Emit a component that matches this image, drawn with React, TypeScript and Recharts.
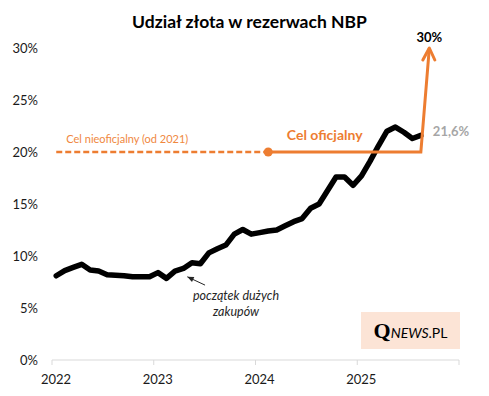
import React from "react";
import {
  LineChart,
  Line,
  XAxis,
  YAxis,
  ReferenceDot,
  ReferenceLine,
} from "recharts";

// NBP gold share in reserves, monthly (%)
const months = [
  "2022-01", "2022-02", "2022-03", "2022-04", "2022-05", "2022-06",
  "2022-07", "2022-08", "2022-09", "2022-10", "2022-11", "2022-12",
  "2023-01", "2023-02", "2023-03", "2023-04", "2023-05", "2023-06",
  "2023-07", "2023-08", "2023-09", "2023-10", "2023-11", "2023-12",
  "2024-01", "2024-02", "2024-03", "2024-04", "2024-05", "2024-06",
  "2024-07", "2024-08", "2024-09", "2024-10", "2024-11", "2024-12",
  "2025-01", "2025-02", "2025-03", "2025-04", "2025-05", "2025-06",
  "2025-07", "2025-08",
];
const goldShare = [
  8.1, 8.6, 8.9, 9.2, 8.65, 8.55, 8.2, 8.15, 8.1, 8.0, 8.0, 8.0,
  8.4, 7.85, 8.55, 8.8, 9.35, 9.25, 10.3, 10.7, 11.05, 12.1, 12.55, 12.1,
  12.25, 12.4, 12.5, 12.9, 13.3, 13.6, 14.6, 15.0, 16.3, 17.6, 17.6, 16.8,
  17.7, 19.1, 20.6, 22.0, 22.4, 21.9, 21.3, 21.6,
];

// targets
const unofficialMonths = ["2022-01", "2024-02"];
const unofficialValues = [20, 20];
const officialMonths = ["2024-02", "2025-08", "2025-09"];
const officialValues = [20, 20, 30];

const yTicks = [0, 5, 10, 15, 20, 25, 30];
const yearTicks = [2022, 2023, 2024, 2025, 2026];

const ORANGE = "#ED7D31";

const toT = (m: string) => {
  const [y, mo] = m.split("-").map(Number);
  return y + (mo - 0.5) / 12;
};

const data = months.map((m, i) => ({ t: toT(m), v: goldShare[i] }));
const unofficial = unofficialMonths.map((m, i) => ({ t: toT(m), v: unofficialValues[i] }));
const official = officialMonths.map((m, i) => ({ t: toT(m), v: officialValues[i] }));

function YearTick(props: any) {
  const { x, y, payload } = props;
  if (payload.value === 2026) return <g />;
  return (
    <text x={x + 4} y={y + 17} textAnchor="middle" fontSize={13} fill="#1a1a1a">
      {payload.value}
    </text>
  );
}

function targetDot(props: any) {
  const { cx, cy, index } = props;
  if (index === 0) {
    return <circle key="d0" cx={cx} cy={cy} r={4.5} fill={ORANGE} />;
  }
  if (index === officialValues.length - 1) {
    return (
      <polyline
        key="arrow"
        points={`${cx - 6.5},${cy + 12} ${cx},${cy} ${cx + 5.5},${cy + 12}`}
        fill="none"
        stroke={ORANGE}
        strokeWidth={3}
        strokeLinecap="round"
        strokeLinejoin="round"
      />
    );
  }
  return <g key={`e${index}`} />;
}

function pointerArrow(props: any) {
  const { x1, y1, x2, y2 } = props;
  const ang = Math.atan2(y2 - y1, x2 - x1);
  const len = 7;
  const a1 = ang + Math.PI - 0.4;
  const a2 = ang + Math.PI + 0.4;
  return (
    <g>
      <line x1={x1} y1={y1} x2={x2} y2={y2} stroke="#262626" strokeWidth={1} />
      <polygon
        points={`${x2},${y2} ${x2 + len * Math.cos(a1)},${y2 + len * Math.sin(a1)} ${x2 + len * Math.cos(a2)},${y2 + len * Math.sin(a2)}`}
        fill="#262626"
      />
    </g>
  );
}

export default function App() {
  return (
    <div
      style={{
        position: "absolute",
        left: 0,
        top: 0,
        width: 489,
        height: 396,
        background: "#fff",
        fontFamily: "Lato, sans-serif",
      }}
    >
      <div
        style={{
          position: "absolute",
          left: 5,
          top: 11,
          width: 489,
          textAlign: "center",
          fontSize: 17.5,
          fontWeight: 700,
          lineHeight: "22px",
          color: "#000",
        }}
      >
        Udział złota w rezerwach NBP
      </div>

      <LineChart
        width={489}
        height={396}
        margin={{ top: 48, right: 30, left: 12, bottom: 6 }}
      >
        <XAxis
          dataKey="t"
          type="number"
          domain={[2022, 2026]}
          ticks={yearTicks}
          allowDataOverflow
          stroke="#D9D9D9"
          tickSize={5}
          height={30}
          tick={<YearTick />}
        />
        <YAxis
          type="number"
          domain={[0, 30]}
          ticks={yTicks}
          axisLine={false}
          tickLine={false}
          tickSize={0}
          tickMargin={14}
          width={40}
          tick={{ fontSize: 13, fill: "#1a1a1a" }}
          tickFormatter={(v) => `${v}%`}
        />
        <Line
          data={data}
          dataKey="v"
          type="linear"
          stroke="#000"
          strokeWidth={5.5}
          strokeLinejoin="round"
          strokeLinecap="round"
          dot={false}
          activeDot={false}
          isAnimationActive={false}
        />
        <Line
          data={unofficial}
          dataKey="v"
          type="linear"
          stroke={ORANGE}
          strokeWidth={2.5}
          strokeDasharray="6 3"
          dot={false}
          activeDot={false}
          isAnimationActive={false}
        />
        <Line
          data={official}
          dataKey="v"
          type="linear"
          stroke={ORANGE}
          strokeWidth={3}
          dot={targetDot}
          activeDot={false}
          isAnimationActive={false}
        />
        <ReferenceDot
          x={toT("2025-09")}
          y={30}
          r={0}
          stroke="none"
          ifOverflow="visible"
          label={{ value: "30%", position: "top", offset: 6, fill: "#000", fontSize: 13, fontWeight: 700 }}
        />
        <ReferenceDot
          x={toT("2025-08")}
          y={21.6}
          r={0}
          stroke="none"
          ifOverflow="visible"
          label={{ value: "21,6%", position: "right", offset: 12, dy: -4, fill: "#A6A6A6", fontSize: 13, fontWeight: 700 }}
        />
        <ReferenceDot
          x={2024.68}
          y={20}
          r={0}
          stroke="none"
          ifOverflow="visible"
          label={{ value: "Cel oficjalny", position: "top", offset: 12, fill: ORANGE, fontSize: 14, fontWeight: 700 }}
        />
        <ReferenceDot
          x={2022.74}
          y={20}
          r={0}
          stroke="none"
          ifOverflow="visible"
          label={{ value: "Cel nieoficjalny (od 2021)", position: "top", offset: 9, fill: "#F0883E", fontSize: 11 }}
        />
        <ReferenceLine
          segment={[
            { x: 2023.504, y: 7.2 },
            { x: 2023.33, y: 8.0 },
          ]}
          ifOverflow="visible"
          shape={pointerArrow}
        />
      </LineChart>

      <div
        style={{
          position: "absolute",
          left: 185,
          top: 288,
          width: 102,
          textAlign: "center",
          fontSize: 12.5,
          fontStyle: "italic",
          lineHeight: "15.5px",
          color: "#262626",
        }}
      >
        początek dużych
        <br />
        zakupów
      </div>

      <div
        style={{
          position: "absolute",
          left: 361,
          top: 312,
          width: 99,
          height: 37,
          background: "#FCE4D6",
          display: "flex",
          alignItems: "baseline",
          justifyContent: "center",
          lineHeight: "37px",
          color: "#000",
        }}
      >
        <span style={{ fontFamily: "'Liberation Serif', serif", fontWeight: 700, fontSize: 22 }}>Q</span>
        <span style={{ fontStyle: "italic", fontSize: 14 }}>NEWS</span>
        <span style={{ fontSize: 14 }}>.PL</span>
      </div>
    </div>
  );
}
